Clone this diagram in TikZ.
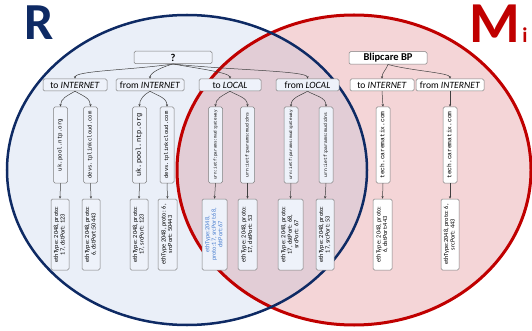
\documentclass[tikz,border=0pt]{standalone}
\usepackage{fontspec}
\setmainfont{Carlito}
\setmonofont{Liberation Mono}
\usetikzlibrary{arrows.meta}
\definecolor{rnavy}{HTML}{0E2A64}
\definecolor{mred}{HTML}{C00000}
\definecolor{rfill}{HTML}{EAEFF8}
\definecolor{mfill}{HTML}{F4D5D7}
\definecolor{rmfill}{HTML}{E2CDD6}
\definecolor{boxgray}{HTML}{7F7F7F}
\definecolor{boxblue}{HTML}{EEF2FA}
\definecolor{ruleblue}{HTML}{4A7FD0}
\newcommand{\vlabel}[1]{\rotatebox{90}{\begin{tabular}{@{}c@{}}#1\end{tabular}}}

\begin{document}
\begin{tikzpicture}[x=1pt,y=1pt,
    box/.style={draw=boxgray,line width=0.5pt,rounded corners=1.5pt,inner sep=0pt,align=center},
    rbox/.style={box,fill=boxblue},
    wbox/.style={box,fill=white},
    top/.style={minimum width=78pt,minimum height=12.5pt,font=\bfseries\fontsize{10.5}{11}\selectfont},
    dir/.style={minimum height=12pt,font=\fontsize{9.6}{10}\selectfont},
    host/.style={minimum width=14pt,minimum height=76pt},
    rule/.style={minimum height=71pt,font=\fontsize{6.3}{6.5}\selectfont},
    link/.style={-{Stealth[length=2.6pt,width=2.2pt]},draw=black!75,line width=0.5pt}]
    \useasboundingbox (0,0) rectangle (532,-331);
    % the two sets
    \fill[rfill] (187,-170) ellipse [x radius=180,y radius=155];
    \fill[mfill] (354,-170) ellipse [x radius=177,y radius=155];
    \begin{scope}
      \clip (187,-170) ellipse [x radius=180,y radius=155];
      \fill[rmfill] (354,-170) ellipse [x radius=177,y radius=155];
    \end{scope}
    \draw[mred,line width=3pt] (354,-170) ellipse [x radius=177,y radius=155];
    \draw[rnavy,line width=2.5pt] (187,-170) ellipse [x radius=180,y radius=155];
    \node[font=\bfseries\fontsize{52}{52}\selectfont,text=rnavy,anchor=base,inner sep=0pt] (rlab) at (39,-40) {R};
    \node[font=\bfseries\fontsize{58}{58}\selectfont,text=mred,anchor=base west,inner sep=0pt] (mlab) at (469,-43) {M};
    \node[font=\bfseries\fontsize{21}{21}\selectfont,text=mred,anchor=base west,inner sep=0pt,xshift=2pt] (ilab) at (mlab.base east) {i};
    % unknown device
    \node[rbox,top] (q) at (173,-57.5) {?};
    \node[rbox,dir,minimum width=64pt] (toI) at (75,-85) {to \textit{INTERNET}};
    \node[rbox,dir,minimum width=68pt] (fromI) at (150,-85) {from \textit{INTERNET}};
    \node[rbox,dir,minimum width=62pt] (toL) at (230,-85) {to \textit{LOCAL}};
    \node[rbox,dir,minimum width=63pt] (fromL) at (307.5,-85) {from \textit{LOCAL}};
    \node[rbox,host,font=\ttfamily\fontsize{5.8}{6}\selectfont] (h1) at (60.5,-145) {\vlabel{uk.pool.ntp.org}};
    \node[rbox,host,font=\ttfamily\fontsize{5.6}{6}\selectfont] (h2) at (90.5,-145) {\vlabel{devs.tplinkcloud.com}};
    \node[rbox,host,font=\ttfamily\fontsize{7}{7}\selectfont] (h3) at (139.5,-145) {\vlabel{uk.pool.ntp.org}};
    \node[rbox,host,font=\ttfamily\fontsize{5.6}{6}\selectfont] (h4) at (167,-145) {\vlabel{devs.tplinkcloud.com}};
    \node[rbox,host,font=\ttfamily\fontsize{4.3}{5}\selectfont] (h5) at (215.5,-145) {\vlabel{urn:ietf:params:mud:gateway}};
    \node[rbox,host,font=\ttfamily\fontsize{4.7}{5}\selectfont] (h6) at (247.5,-145) {\vlabel{urn:ietf:params:mud:dns}};
    \node[rbox,host,font=\ttfamily\fontsize{4.3}{5}\selectfont] (h7) at (291,-145) {\vlabel{urn:ietf:params:mud:gateway}};
    \node[rbox,host,font=\ttfamily\fontsize{4.7}{5}\selectfont] (h8) at (326,-145) {\vlabel{urn:ietf:params:mud:dns}};
    \node[rbox,rule,minimum width=18pt] (r1) at (60,-234.5) {\vlabel{ethType: 2048, proto:\\17, dstPort: 123}};
    \node[rbox,rule,minimum width=18pt] (r2) at (91,-234.5) {\vlabel{ethType: 2048, proto:\\6, dstPort:50443}};
    \node[rbox,rule,minimum width=18pt] (r3) at (139,-234.5) {\vlabel{ethType: 2048, proto:\\17, srcPort: 123}};
    \node[rbox,rule,minimum width=19pt] (r4) at (167.5,-234.5) {\vlabel{ethType 2048, proto: 6,\\srcPort: 50443}};
    \node[rbox,rule,minimum width=25pt,text=ruleblue] (r5) at (214.5,-234.5) {\vlabel{ethType:2048,\\proto:17, srcPort:68,\\dstPort:67}};
    \node[rbox,rule,minimum width=19pt] (r6) at (247.5,-234.5) {\vlabel{ethType: 2048, proto:\\17, dstPort: 53}};
    \node[rbox,rule,minimum width=25pt] (r7) at (290.5,-234.5) {\vlabel{ethType: 2048, proto:\\17, dstPort: 68,\\srcPort: 67}};
    \node[rbox,rule,minimum width=18pt] (r8) at (325,-234.5) {\vlabel{ethType: 2048, proto:\\17, srcPort: 53}};
    % Blipcare
    \node[wbox,top] (bp) at (388,-58) {Blipcare BP};
    \node[wbox,dir,minimum width=64pt] (bpToI) at (382,-85) {to \textit{INTERNET}};
    \node[wbox,dir,minimum width=68pt] (bpFromI) at (450,-85) {from \textit{INTERNET}};
    \node[wbox,host,font=\ttfamily\fontsize{6.2}{7}\selectfont] (h9) at (383,-145) {\vlabel{tech.carematix.com}};
    \node[wbox,host,font=\ttfamily\fontsize{6.2}{7}\selectfont] (h10) at (450,-145) {\vlabel{tech.carematix.com}};
    \node[wbox,rule,minimum width=19pt] (r9) at (382.5,-234.5) {\vlabel{ethType: 2048, proto:\\6, dstPort:443}};
    \node[wbox,rule,minimum width=18pt] (r10) at (450,-234.5) {\vlabel{ethType:2048, proto: 6,\\srcPort: 443}};
    % links
    \draw[link] (q.south) to[out=-172,in=90,out distance=45pt,in distance=8pt] (toI.north);
    \draw[link] (q.south) to[out=-165,in=90,out distance=12pt,in distance=6pt] (fromI.north);
    \draw[link] (q.south) to[out=-10,in=90,out distance=28pt,in distance=6pt] (toL.north);
    \draw[link] (q.south) to[out=-6,in=90,out distance=60pt,in distance=8pt] (fromL.north);
    \draw[link] (toI.south) to[out=-150,in=90] (h1.north);
    \draw[link] (toI.south) to[out=-30,in=90] (h2.north);
    \draw[link] (fromI.south) to[out=-150,in=90] (h3.north);
    \draw[link] (fromI.south) to[out=-30,in=90] (h4.north);
    \draw[link] (toL.south) to[out=-150,in=90] (h5.north);
    \draw[link] (toL.south) to[out=-30,in=90] (h6.north);
    \draw[link] (fromL.south) to[out=-150,in=90] (h7.north);
    \draw[link] (fromL.south) to[out=-30,in=90] (h8.north);
    \draw[link] (bp.south) to[out=-110,in=90] (bpToI.north);
    \draw[link] (bp.south) to[out=-15,in=90,out distance=25pt,in distance=6pt] (bpFromI.north);
    \draw[link] (bpToI.south) -- (h9.north);
    \draw[link] (bpFromI.south) -- (h10.north);
    \draw[link] (h1.south) -- (r1.north);
    \draw[link] (h2.south) -- (r2.north);
    \draw[link] (h3.south) -- (r3.north);
    \draw[link] (h4.south) -- (r4.north);
    \draw[link] (h5.south) -- (r5.north);
    \draw[link] (h6.south) -- (r6.north);
    \draw[link] (h7.south) -- (r7.north);
    \draw[link] (h8.south) -- (r8.north);
    \draw[link] (h9.south) -- (r9.north);
    \draw[link] (h10.south) -- (r10.north);
\end{tikzpicture}
\end{document}
